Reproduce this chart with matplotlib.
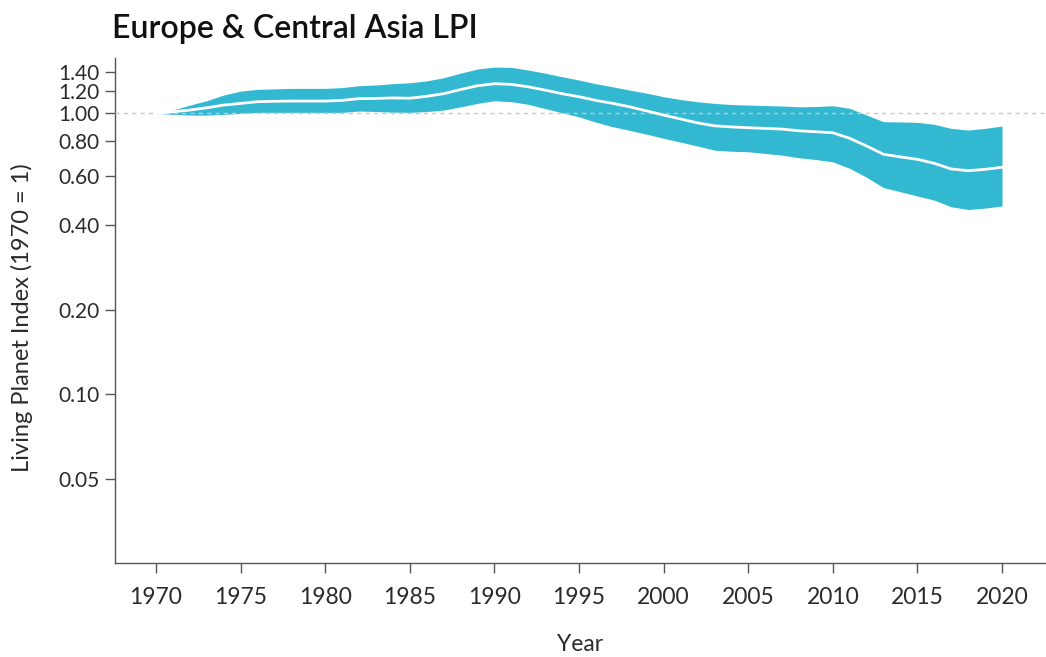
import matplotlib
matplotlib.use("Agg")
import matplotlib.pyplot as plt
from matplotlib.ticker import FixedLocator, NullLocator, FixedFormatter

plt.rcParams['font.family'] = ['Lato', 'DejaVu Sans']

years = list(range(1970, 2021))
index_mid = [1.000, 1.013, 1.027, 1.047, 1.070, 1.085, 1.100, 1.104, 1.106, 1.106,
             1.106, 1.112, 1.128, 1.130, 1.135, 1.132, 1.150, 1.175, 1.215, 1.254,
             1.275, 1.268, 1.243, 1.210, 1.175, 1.146, 1.112, 1.085, 1.055, 1.020,
             0.986, 0.955, 0.925, 0.903, 0.895, 0.889, 0.884, 0.879, 0.867, 0.860,
             0.853, 0.815, 0.765, 0.715, 0.700, 0.686, 0.664, 0.634, 0.625, 0.632,
             0.643]
index_upper = [1.000, 1.027, 1.070, 1.109, 1.162, 1.200, 1.217, 1.222, 1.227, 1.227,
               1.227, 1.235, 1.254, 1.262, 1.275, 1.285, 1.305, 1.339, 1.390, 1.438,
               1.461, 1.458, 1.426, 1.390, 1.350, 1.314, 1.275, 1.243, 1.210, 1.180,
               1.146, 1.120, 1.100, 1.085, 1.075, 1.070, 1.066, 1.062, 1.055, 1.058,
               1.064, 1.042, 0.986, 0.934, 0.932, 0.929, 0.914, 0.884, 0.872, 0.884,
               0.901]
index_lower = [1.000, 0.992, 0.986, 0.986, 0.992, 1.000, 1.008, 1.008, 1.008, 1.008,
               1.008, 1.008, 1.019, 1.015, 1.010, 1.008, 1.015, 1.027, 1.055, 1.085,
               1.109, 1.100, 1.077, 1.040, 1.005, 0.972, 0.930, 0.896, 0.870, 0.843,
               0.815, 0.790, 0.765, 0.740, 0.733, 0.730, 0.720, 0.710, 0.695, 0.685,
               0.672, 0.637, 0.592, 0.544, 0.526, 0.508, 0.491, 0.465, 0.455, 0.460,
               0.468]

y_ticks = [0.05, 0.10, 0.20, 0.40, 0.60, 0.80, 1.00, 1.20, 1.40]
y_tick_labels = ["0.05", "0.10", "0.20", "0.40", "0.60", "0.80", "1.00", "1.20", "1.40"]
x_ticks = list(range(1970, 2021, 5))

band_color = "#33b8d2"
axis_color = "#555555"
text_color = "#2b2b2b"

fig = plt.figure(figsize=(10.46, 6.57), dpi=100)
ax = fig.add_axes([115 / 1046, 1 - 563 / 657, 1 - 115 / 1046, (563 - 58) / 657])

ax.set_yscale('log')
ax.set_xlim(1967.58, 2022.6)
ax.set_ylim(0.0251, 1.574)

ax.fill_between(years, index_lower, index_upper, color=band_color, lw=0, zorder=2)
ax.axhline(1.0, color="#c8c8c8", lw=1.0, ls=(0, (3, 3)), zorder=3)
ax.plot(years, index_mid, color="white", lw=2.0, zorder=4)

ax.yaxis.set_major_locator(FixedLocator(y_ticks))
ax.yaxis.set_major_formatter(FixedFormatter(y_tick_labels))
ax.yaxis.set_minor_locator(NullLocator())
ax.set_xticks(x_ticks)
ax.set_xticklabels([str(x) for x in x_ticks])

for s in ['top', 'right']:
    ax.spines[s].set_visible(False)
for s in ['left', 'bottom']:
    ax.spines[s].set_color(axis_color)
    ax.spines[s].set_linewidth(1.0)

ax.tick_params(axis='both', which='major', length=7, width=1.0, color=axis_color,
               labelcolor=text_color, pad=4)
ax.tick_params(axis='x', labelsize=16.5, pad=10)
ax.tick_params(axis='y', labelsize=15)

ax.set_xlabel("Year", fontsize=16.5, color=text_color, labelpad=19)
ax.set_ylabel("Living Planet Index (1970 = 1)", fontsize=17, color=text_color)
ax.yaxis.set_label_coords((33 - 115) / 931, (563 - 318) / 505)

fig.text(112 / 1046, 1 - 38 / 657, "Europe & Central Asia LPI", fontsize=23,
         color="#111111", ha='left', va='baseline', fontweight='semibold')

fig.savefig("out.png", dpi=100)
